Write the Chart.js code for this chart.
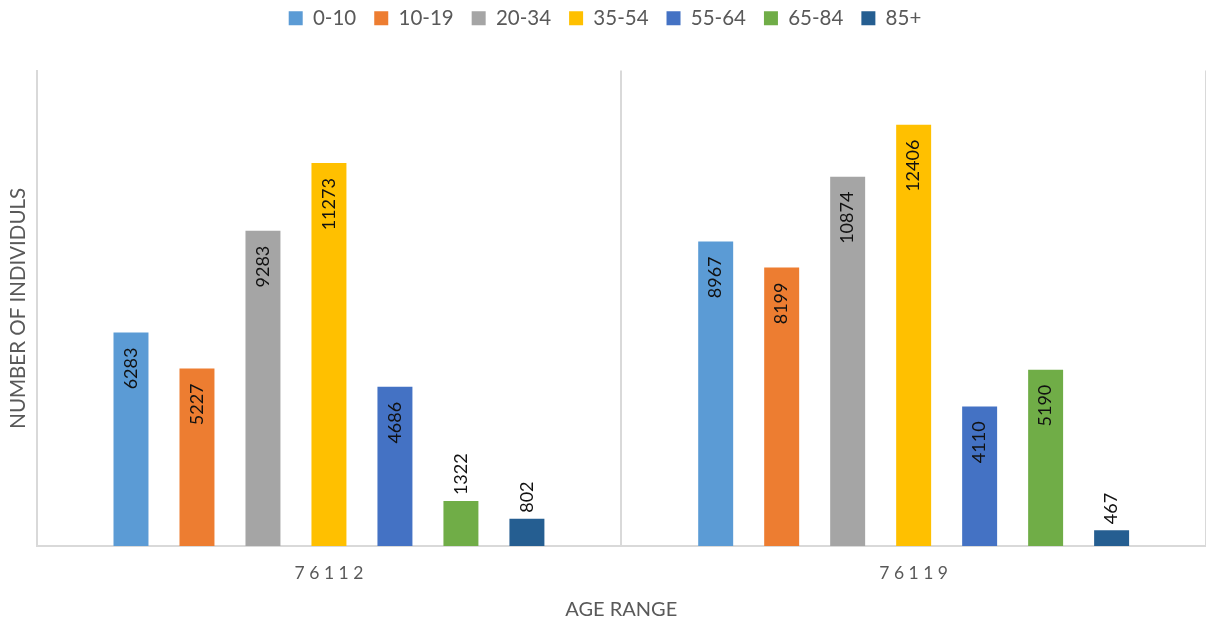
<!DOCTYPE html>
<html>
<head>
<meta charset="utf-8">
<script src="https://cdn.jsdelivr.net/npm/chart.js@4/dist/chart.umd.min.js"></script>
<style>
  html, body { margin: 0; padding: 0; background: #fff; }
  #wrap { width: 1206px; height: 622px; position: relative; }
</style>
</head>
<body>
<div id="wrap"><canvas id="chart"></canvas></div>
<script>
const zipCodes = ['76112', '76119'];
const ageRanges = ['0-10', '10-19', '20-34', '35-54', '55-64', '65-84', '85+'];
const counts76112 = [6283, 5227, 9283, 11273, 4686, 1322, 802];
const counts76119 = [8967, 8199, 10874, 12406, 4110, 5190, 467];
const rangeColors = ['#5B9BD5', '#ED7D31', '#A5A5A5', '#FFC000', '#4472C4', '#70AD47', '#255E91'];

const FONT = 'Lato, "Open Sans", sans-serif';
const GREY = '#595959';

// rotated value labels: inside the top of the bar, or above it when it does not fit
const barLabels = {
    id: 'barLabels',
    afterDatasetsDraw(chart) {
        const ctx = chart.ctx;
        ctx.save();
        ctx.font = '18px ' + FONT;
        ctx.fillStyle = '#111';
        ctx.textBaseline = 'middle';
        chart.data.datasets.forEach((ds, i) => {
            const meta = chart.getDatasetMeta(i);
            meta.data.forEach((bar, j) => {
                const text = String(ds.data[j]);
                const w = ctx.measureText(text).width;
                const h = bar.base - bar.y;
                ctx.save();
                if (h > w + 30) {
                    ctx.translate(bar.x, bar.y + 15);
                    ctx.rotate(-Math.PI / 2);
                    ctx.textAlign = 'right';
                } else {
                    ctx.translate(bar.x, bar.y - 6);
                    ctx.rotate(-Math.PI / 2);
                    ctx.textAlign = 'left';
                }
                ctx.fillText(text, 0, 0);
                ctx.restore();
            });
        });
        ctx.restore();
    }
};

// push the plot down below the legend
const legendGap = {
    id: 'legendGap',
    beforeInit(chart) {
        const fit = chart.legend.fit;
        chart.legend.fit = function () {
            fit.bind(chart.legend)();
            this.height += 32;
        };
    }
};

new Chart(document.getElementById('chart'), {
    type: 'bar',
    data: {
        labels: zipCodes,
        datasets: ageRanges.map((r, i) => ({
            label: r,
            data: [counts76112[i], counts76119[i]],
            backgroundColor: rangeColors[i],
            borderWidth: 0,
            categoryPercentage: 0.79,
            barPercentage: 0.53
        }))
    },
    options: {
        responsive: true,
        maintainAspectRatio: false,
        animation: false,
        layout: { padding: { left: 0, right: -4, top: -10, bottom: 0 } },
        plugins: {
            legend: {
                position: 'top',
                labels: {
                    boxWidth: 14,
                    boxHeight: 14,
                    padding: 18,
                    color: GREY,
                    font: { family: FONT, size: 20.5 }
                }
            },
            tooltip: { enabled: false }
        },
        scales: {
            x: {
                grid: { display: true, color: '#d9d9d9', lineWidth: 2, drawTicks: false, offset: true },
                border: { color: '#d9d9d9', width: 2 },
                ticks: {
                    color: GREY,
                    padding: 17,
                    font: { family: FONT, size: 17.5 },
                    callback: function (v) { return this.getLabelForValue(v).split('').join(' '); }
                },
                title: {
                    display: true,
                    text: 'AGE RANGE',
                    color: GREY,
                    font: { family: FONT, size: 20 },
                    padding: { top: -3, bottom: 0 }
                }
            },
            y: {
                min: 0,
                max: 14000,
                grid: { display: false, drawTicks: false },
                border: { color: '#d9d9d9', width: 2 },
                ticks: { display: false },
                title: {
                    display: true,
                    text: 'NUMBER OF INDIVIDULS',
                    color: GREY,
                    font: { family: FONT, size: 20.5 },
                    padding: { top: 6, bottom: 6 }
                }
            }
        }
    },
    plugins: [barLabels, legendGap]
});
</script>
</body>
</html>
